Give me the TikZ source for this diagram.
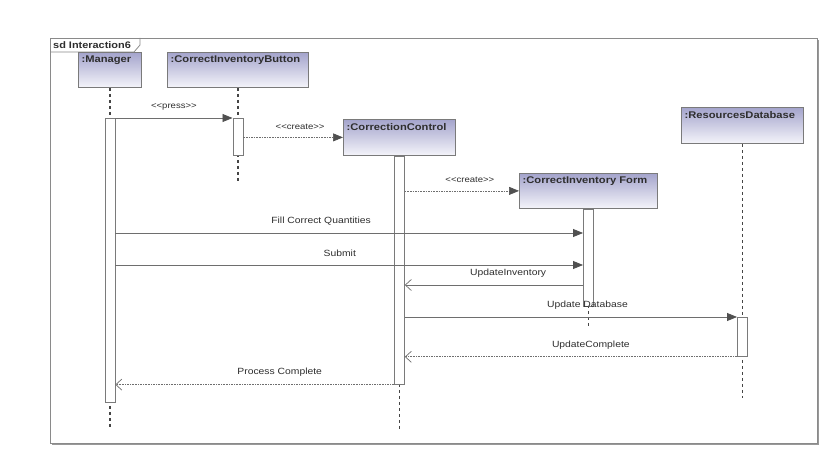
\documentclass[tikz,border=0pt]{standalone}
\usepackage{fontspec}
\setmainfont{Liberation Sans}[FakeStretch=1.15]
\usetikzlibrary{arrows.meta}
\definecolor{linec}{HTML}{6E6E6E}
\definecolor{lifec}{HTML}{454545}
\definecolor{headc}{HTML}{505050}
\definecolor{boxline}{HTML}{7A7A7A}
\definecolor{gradtop}{HTML}{A4A4CC}
\definecolor{gradbot}{HTML}{F4F4FA}
\definecolor{txtc}{HTML}{2E2E2E}
\definecolor{framec}{HTML}{8A8A8A}
\newcommand{\lt}{<\kern0pt<}
\newcommand{\gt}{>\kern0pt>}
\tikzset{
  objbox/.style={draw=boxline, line width=0.8pt, top color=gradtop, bottom color=gradbot,
    anchor=north west, inner sep=0pt, minimum height=35pt},
  objlbl/.style={anchor=north west, inner sep=0pt, xshift=3.5pt, yshift=-4pt, text=txtc,
    font=\bfseries\fontsize{9.7}{11}\selectfont},
  actbox/.style={draw=boxline, line width=0.8pt, fill=white, anchor=north, inner sep=0pt, minimum width=10pt},
  lifeline/.style={draw=lifec, line width=1.4pt, dash pattern=on 3.5pt off 2.5pt},
  syncmsg/.style={draw=linec, line width=0.8pt, -{Triangle[length=10pt,width=8pt,fill=headc,color=headc]}},
  createmsg/.style={draw=linec, line width=0.7pt, dash pattern=on 1.6pt off 1pt, -{Triangle[length=10pt,width=8pt,fill=headc,color=headc]}},
  replymsg/.style={draw=linec, line width=0.7pt, dash pattern=on 1.6pt off 1pt, -{Straight Barb[length=6pt,width=11pt,line width=0.7pt]}},
  retmsg/.style={draw=linec, line width=0.8pt, -{Straight Barb[length=6pt,width=11pt,line width=0.7pt]}},
  msglbl/.style={anchor=center, inner sep=0pt, yshift=12pt, text=txtc, font=\fontsize{9}{10.5}\selectfont},
  smalllbl/.style={anchor=center, inner sep=0pt, yshift=11pt, text=txtc, font=\fontsize{8.3}{9.6}\selectfont},
}
\begin{document}
\begin{tikzpicture}[x=1pt,y=-1pt]
\useasboundingbox (0,0) rectangle (837,457);
% frame
\fill[black!40] (52,40) rectangle (819,445);
\node[draw=framec, fill=white, line width=0.8pt, anchor=north west, inner sep=0pt,
  minimum width=767pt, minimum height=405pt] (frame) at (50,38) {};
\draw[draw=framec, line width=0.8pt] (frame.north west) ++(0,14) -- ++(84,0) -- ++(6,-7) -- ++(0,-7);
\node[anchor=west, inner sep=0pt, text=txtc, font=\bfseries\fontsize{9.5}{11}\selectfont] (sdlbl) at (53,45) {sd Interaction6};

% lifeline boxes
\node[objbox, minimum width=63pt, label={[objlbl]north west::Manager}] (mgr) at (78,52) {};
\node[objbox, minimum width=141pt, label={[objlbl]north west::CorrectInventoryButton}] (btn) at (167,52) {};
\node[objbox, minimum width=112pt, minimum height=36pt, label={[objlbl]north west::CorrectionControl}] (ctl) at (343,119) {};
\node[objbox, minimum width=138pt, label={[objlbl]north west::CorrectInventory Form}] (form) at (519,173) {};
\node[objbox, minimum width=122pt, minimum height=36pt, label={[objlbl]north west::ResourcesDatabase}] (db) at (681,107) {};

% lifeline ends
\coordinate (mgrEnd) at (mgr.south |- 0,429);
\coordinate (btnEnd) at (btn.south |- 0,183);
\coordinate (ctlEnd) at (ctl.south |- 0,430);
\coordinate (formEnd) at (form.south |- 0,327);
\coordinate (dbEnd) at (db.south |- 0,398);

\draw[lifeline] (mgr.south) -- (mgrEnd);
\draw[lifeline] (btn.south) -- (btnEnd);
\draw[lifeline] (ctl.south) -- (ctlEnd);
\draw[lifeline] (form.south) -- (formEnd);
\draw[lifeline] (db.south) -- (dbEnd);

% activations
\node[actbox, minimum height=284pt] (mgrA) at (mgr.south |- 0,118) {};
\node[actbox, minimum height=37pt] (btnA) at (btn.south |- 0,118) {};
\node[actbox, minimum height=228pt] (ctlA) at (ctl.south) {};
\node[actbox, minimum height=97pt] (formA) at (form.south) {};
\node[actbox, minimum height=39pt] (dbA) at (db.south |- 0,317) {};

% messages
\draw[syncmsg] (mgrA.north east) -- node[smalllbl, pos=.5] {\lt press\gt} (btnA.north west);
\draw[createmsg] (btnA.east |- ctl.west) -- node[smalllbl, pos=.57] {\lt create\gt} (ctl.west);
\draw[createmsg] (ctlA.east |- form.west) -- node[smalllbl, pos=.57] {\lt create\gt} (form.west);
\draw[syncmsg] (mgrA.east |- 0,233) -- node[msglbl, pos=.44] {Fill Correct Quantities} (formA.west |- 0,233);
\draw[syncmsg] (mgrA.east |- 0,265) -- node[msglbl, pos=.48] {Submit} (formA.west |- 0,265);
\draw[retmsg] (formA.west |- 0,285) -- node[msglbl, pos=.42] {UpdateInventory} (ctlA.east |- 0,285);
\draw[syncmsg] (ctlA.east |- dbA.north west) -- node[msglbl, pos=.55] {Update Database} (dbA.north west);
\draw[replymsg] (dbA.south west) -- node[msglbl, pos=.44] {UpdateComplete} (ctlA.east |- dbA.south west);
\draw[replymsg] (ctlA.south west) -- node[msglbl, pos=.41] {Process Complete} (mgrA.east |- ctlA.south west);
\end{tikzpicture}
\end{document}
